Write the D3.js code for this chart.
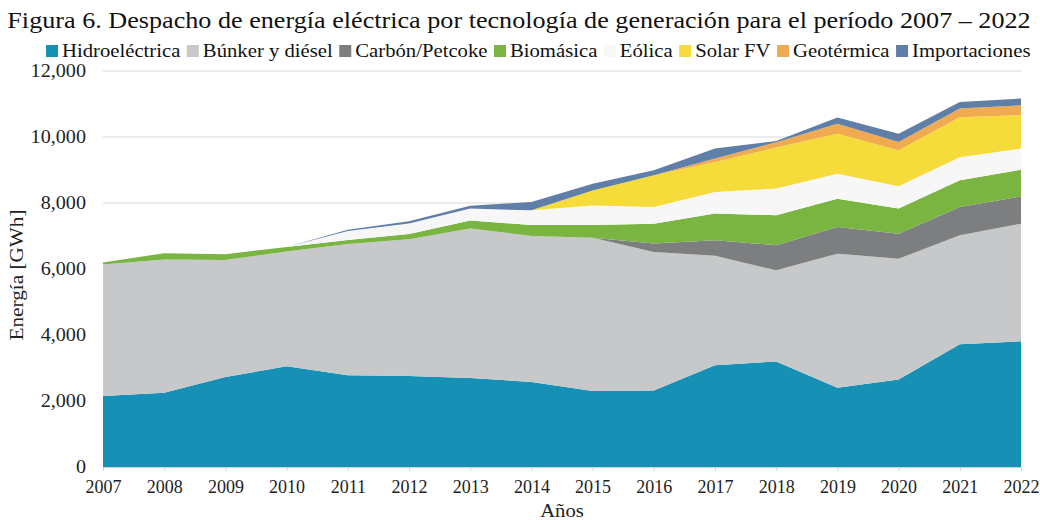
<!DOCTYPE html>
<html>
<head>
<meta charset="utf-8">
<script src="https://cdn.jsdelivr.net/npm/d3@7"></script>
<style>
  body { margin: 0; background: #fff; }
  svg { display: block; font-family: "Liberation Serif", "DejaVu Serif", serif; }
</style>
</head>
<body>
<svg id="chart" width="1040" height="520"></svg>
<script>
const years = [2007, 2008, 2009, 2010, 2011, 2012, 2013, 2014, 2015, 2016, 2017, 2018, 2019, 2020, 2021, 2022];

const hidro    = [2150, 2250, 2730, 3050, 2780, 2760, 2700, 2575, 2300, 2315, 3080, 3200, 2405, 2650, 3720, 3810];
const bunker   = [3990, 4035, 3540, 3480, 3980, 4140, 4530, 4425, 4650, 4200, 3320, 2760, 4060, 3660, 3300, 3565];
const carbon   = [0, 0, 0, 0, 0, 0, 0, 0, 0, 255, 470, 760, 805, 760, 860, 825];
const biomasa  = [60, 195, 180, 140, 120, 160, 240, 330, 380, 605, 810, 910, 860, 760, 810, 810];
const eolica   = [0, 0, 0, 0, 270, 320, 360, 450, 595, 505, 650, 810, 760, 675, 700, 640];
const solar    = [0, 0, 0, 0, 0, 0, 0, 0, 455, 960, 910, 1240, 1210, 1095, 1210, 1010];
const geo      = [0, 0, 0, 0, 0, 0, 0, 0, 0, 0, 105, 160, 300, 250, 260, 300];
const import_  = [0, 0, 0, 0, 40, 70, 90, 250, 200, 150, 305, 40, 190, 250, 200, 205];

const seriesNames = ["Hidroeléctrica", "Búnker y diésel", "Carbón/Petcoke", "Biomásica", "Eólica", "Solar FV", "Geotérmica", "Importaciones"];
const seriesValues = [hidro, bunker, carbon, biomasa, eolica, solar, geo, import_];
const colors = ["#1690b4", "#c6c8c9", "#7d7e7f", "#7ab542", "#f7f7f7", "#f6dc3a", "#f0ab50", "#5f7ea8"];
const yTicks = [0, 2000, 4000, 6000, 8000, 10000, 12000];

const svg = d3.select("#chart");
const margin = { left: 103, right: 19, top: 71, bottom: 53 };
const W = 1040, H = 520;
const sx = 1.09; // the scanned figure is a little wider than the font

const x = d3.scaleLinear().domain([2007, 2022]).range([margin.left, W - margin.right]);
const y = d3.scaleLinear().domain([0, 12000]).range([H - margin.bottom, margin.top]);

const rows = years.map((yr, i) => {
  const r = { year: yr };
  seriesNames.forEach((n, k) => { r[n] = seriesValues[k][i]; });
  return r;
});
const stacked = d3.stack().keys(seriesNames)(rows);

// grid
svg.append("g")
  .selectAll("line")
  .data(yTicks.filter(d => d > 0))
  .join("line")
  .attr("x1", x(2007)).attr("x2", x(2022))
  .attr("y1", d => y(d)).attr("y2", d => y(d))
  .attr("stroke", "#d9d9d9").attr("stroke-width", 1);

const area = d3.area()
  .x(d => x(d.data.year))
  .y0(d => y(d[0]))
  .y1(d => y(d[1]));

svg.append("g")
  .selectAll("path")
  .data(stacked)
  .join("path")
  .attr("fill", (d, i) => colors[i])
  .attr("d", area);

// axes
const xAxis = svg.append("g")
  .attr("transform", `translate(0,${y(0)})`)
  .call(d3.axisBottom(x).tickValues(years).tickFormat(d3.format("d")).tickSize(4).tickPadding(9));
xAxis.select(".domain").attr("stroke", "#d0d0d0");
xAxis.selectAll(".tick line").attr("stroke", "#d0d0d0");
xAxis.selectAll("text")
  .attr("font-size", 18).attr("fill", "#222").attr("font-family", "Liberation Serif");

const yAxis = svg.append("g")
  .attr("transform", `translate(${margin.left - 17},0)`)
  .call(d3.axisLeft(y).tickValues(yTicks).tickFormat(d3.format(",")).tickSize(0).tickPadding(0));
yAxis.select(".domain").remove();
yAxis.selectAll("text")
  .attr("font-size", 18.5).attr("fill", "#222").attr("font-family", "Liberation Serif")
  .attr("transform", `scale(${sx},1)`);

// titles
svg.append("text")
  .attr("transform", `translate(519,28) scale(${sx},1)`)
  .attr("text-anchor", "middle")
  .attr("font-size", 24).attr("fill", "#111")
  .text("Figura 6. Despacho de energía eléctrica por tecnología de generación para el período 2007 – 2022");

svg.append("text")
  .attr("transform", `translate(${(x(2007) + x(2022)) / 2},517) scale(${sx},1)`)
  .attr("text-anchor", "middle")
  .attr("font-size", 19).attr("fill", "#222")
  .text("Años");

svg.append("text")
  .attr("transform", `translate(23,275) rotate(-90) scale(${sx},1)`)
  .attr("text-anchor", "middle")
  .attr("font-size", 19.5).attr("fill", "#222")
  .text("Energía [GWh]");

// legend
const legend = svg.append("g");
let lx = 46;
const ly = 51;
seriesNames.forEach((n, i) => {
  legend.append("rect")
    .attr("x", lx).attr("y", ly - 6)
    .attr("width", 12).attr("height", 12)
    .attr("fill", colors[i]);
  const t = legend.append("text")
    .attr("transform", `translate(${lx + 16},${ly + 5.5}) scale(${sx},1)`)
    .attr("font-size", 19).attr("fill", "#111")
    .text(n);
  lx += 16 + t.node().getComputedTextLength() * sx + 6.5;
});
</script>
</body>
</html>
